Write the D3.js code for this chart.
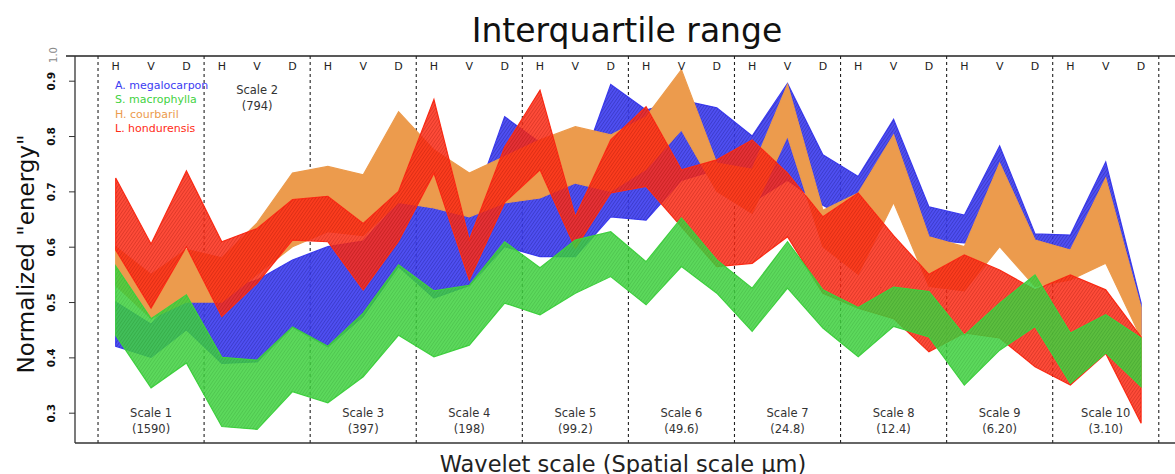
<!DOCTYPE html>
<html>
<head>
<meta charset="utf-8">
<script src="https://cdn.jsdelivr.net/npm/d3@7"></script>
<style>
  body { margin: 0; background: #fff; }
  svg { display: block; font-family: "DejaVu Sans", sans-serif; }
</style>
</head>
<body>
<div id="graph"></div>
<script>
var orient = ["H", "V", "D"]
var scaleNames = ["Scale 1", "Scale 2", "Scale 3", "Scale 4", "Scale 5", "Scale 6", "Scale 7", "Scale 8", "Scale 9", "Scale 10"]
var scaleSizes = ["(1590)", "(794)", "(397)", "(198)", "(99.2)", "(49.6)", "(24.8)", "(12.4)", "(6.20)", "(3.10)"]
var yTicks = [0.3, 0.4, 0.5, 0.6, 0.7, 0.8, 0.9]

// lower / upper quartiles, 30 points (H,V,D for each scale)
var megaLo = [0.42, 0.40, 0.45, 0.389, 0.392, 0.455, 0.419, 0.474, 0.564, 0.507, 0.53, 0.60, 0.582, 0.582, 0.654,
              0.648, 0.72, 0.739, 0.68, 0.72, 0.675, 0.64, 0.685, 0.612, 0.607, 0.612, 0.607, 0.591, 0.582, 0.44]
var megaHi = [0.50, 0.46, 0.525, 0.52, 0.54, 0.576, 0.60, 0.61, 0.68, 0.679, 0.654, 0.835, 0.788, 0.715, 0.893,
              0.847, 0.865, 0.851, 0.80, 0.895, 0.766, 0.727, 0.83, 0.672, 0.657, 0.782, 0.623, 0.621, 0.753, 0.498]
var macroLo = [0.44, 0.345, 0.39, 0.275, 0.27, 0.338, 0.318, 0.365, 0.44, 0.401, 0.422, 0.498, 0.477, 0.516, 0.546,
               0.495, 0.564, 0.516, 0.447, 0.525, 0.453, 0.401, 0.456, 0.437, 0.35, 0.413, 0.456, 0.353, 0.408, 0.347]
var macroHi = [0.565, 0.47, 0.513, 0.40, 0.395, 0.455, 0.42, 0.48, 0.567, 0.52, 0.53, 0.609, 0.562, 0.612, 0.627,
               0.573, 0.652, 0.576, 0.525, 0.609, 0.522, 0.49, 0.527, 0.519, 0.44, 0.498, 0.549, 0.444, 0.477, 0.435]
var courLo = [0.53, 0.47, 0.50, 0.50, 0.55, 0.60, 0.627, 0.62, 0.68, 0.67, 0.654, 0.679, 0.688, 0.715, 0.70,
              0.74, 0.811, 0.70, 0.66, 0.80, 0.60, 0.55, 0.68, 0.528, 0.52, 0.60, 0.528, 0.54, 0.57, 0.435]
var courHi = [0.60, 0.55, 0.595, 0.58, 0.643, 0.733, 0.745, 0.73, 0.844, 0.775, 0.733, 0.763, 0.793, 0.817, 0.802,
              0.835, 0.92, 0.751, 0.74, 0.893, 0.666, 0.697, 0.802, 0.618, 0.60, 0.751, 0.612, 0.594, 0.724, 0.49]
var hondLo = [0.594, 0.489, 0.60, 0.474, 0.534, 0.612, 0.609, 0.522, 0.61, 0.733, 0.54, 0.68, 0.739, 0.597, 0.697,
              0.709, 0.636, 0.564, 0.57, 0.618, 0.516, 0.489, 0.47, 0.41, 0.444, 0.435, 0.383, 0.35, 0.407, 0.281]
var hondHi = [0.724, 0.605, 0.737, 0.609, 0.633, 0.685, 0.691, 0.642, 0.70, 0.866, 0.612, 0.78, 0.883, 0.654, 0.793,
              0.853, 0.739, 0.757, 0.793, 0.733, 0.654, 0.697, 0.62, 0.55, 0.585, 0.558, 0.522, 0.549, 0.522, 0.437]

var speciesNames = ["A. megalocarpon", "S. macrophylla", "H. courbaril", "L. hondurensis"]
var speciesColors = ["#3c3cf2", "#3fd23f", "#ec9b4d", "#ff2c16"]
var speciesAlpha = [0.9, 0.85, 1, 0.85]
var hatchColors = ["#0a0a60", "#137013", null, "#8a0a00"]

var width = 1175, height = 474
var svg = d3.select("#graph").append("svg").attr("width", width).attr("height", height)

var nPts = orient.length * scaleNames.length
var x = d3.scaleLinear().domain([0, nPts - 1]).range([115.7, 1141.1])
var y = d3.scaleLinear().domain([0.3, 0.9]).range([412.7, 80.7])
var plotTop = 56, plotBottom = 443, plotLeft = 75

// hatch patterns like R's density shading, one per colour
var defs = svg.append("defs")
hatchColors.forEach(function(hc, i) {
    if (!hc) return
    defs.append("pattern")
        .attr("id", "hatch" + i)
        .attr("patternUnits", "userSpaceOnUse")
        .attr("width", 2.6).attr("height", 10)
        .attr("patternTransform", "rotate(35)")
      .append("line")
        .attr("x1", 0.5).attr("y1", 0).attr("x2", 0.5).attr("y2", 10)
        .attr("stroke", hc).attr("stroke-opacity", i == 1 ? 0.22 : 0.35).attr("stroke-width", 0.8)
})

var plot = svg.append("g")

// dashed separators between scales
plot.selectAll("line.sep")
    .data(d3.range(scaleNames.length + 1))
    .enter().append("line")
    .attr("class", "sep")
    .attr("x1", function(k) { return x(k * 3 - 0.5) })
    .attr("x2", function(k) { return x(k * 3 - 0.5) })
    .attr("y1", plotTop).attr("y2", plotBottom)
    .attr("stroke", "#222").attr("stroke-width", 1.1)
    .attr("stroke-dasharray", "3,3")

// ribbons: blue, orange, red, green (drawing order as in picture)
var bands = [
    {lo: megaLo, hi: megaHi, c: 0},
    {lo: courLo, hi: courHi, c: 2},
    {lo: hondLo, hi: hondHi, c: 3},
    {lo: macroLo, hi: macroHi, c: 1}
]

var area = d3.area()
    .x(function(d, i) { return x(i) })
    .y0(function(d) { return y(d[0]) })
    .y1(function(d) { return y(d[1]) })

bands.forEach(function(b) {
    var pts = b.lo.map(function(v, i) { return [v, b.hi[i]] })
    plot.append("path")
        .attr("d", area(pts))
        .attr("fill", speciesColors[b.c])
        .attr("fill-opacity", speciesAlpha[b.c])
        .attr("stroke", speciesColors[b.c])
        .attr("stroke-width", 1.2)
    if (hatchColors[b.c]) {
        plot.append("path")
            .attr("d", area(pts))
            .attr("fill", "url(#hatch" + b.c + ")")
    }
})

// H V D labels along the top
plot.selectAll("text.orient")
    .data(d3.range(nPts))
    .enter().append("text")
    .attr("class", "orient")
    .attr("x", function(i) { return x(i) })
    .attr("y", 70)
    .attr("text-anchor", "middle")
    .attr("font-size", 11)
    .attr("fill", "#222")
    .text(function(i) { return orient[i % 3] })

// scale labels
scaleNames.forEach(function(s, k) {
    var cx = x(k * 3 + 1)
    var ty = k == 1 ? 94 : 417
    plot.append("text")
        .attr("x", cx).attr("y", ty)
        .attr("text-anchor", "middle").attr("font-size", 11.5).attr("fill", "#333")
        .text(s)
    plot.append("text")
        .attr("x", cx).attr("y", ty + 15.5)
        .attr("text-anchor", "middle").attr("font-size", 11.5).attr("fill", "#333")
        .text(scaleSizes[k])
})

// legend
plot.selectAll("text.leg")
    .data(speciesNames)
    .enter().append("text")
    .attr("class", "leg")
    .attr("x", 115)
    .attr("y", function(d, i) { return 89 + i * 14.3 })
    .attr("font-size", 11)
    .attr("fill", function(d, i) { return speciesColors[i] })
    .text(function(d) { return d })

// frame
svg.append("line").attr("x1", 66).attr("x2", width).attr("y1", plotTop).attr("y2", plotTop)
    .attr("stroke", "#222").attr("stroke-width", 1.5)
svg.append("line").attr("x1", plotLeft).attr("x2", width).attr("y1", plotBottom).attr("y2", plotBottom)
    .attr("stroke", "#333").attr("stroke-width", 1.3)
svg.append("line").attr("x1", plotLeft).attr("x2", plotLeft).attr("y1", plotTop).attr("y2", plotBottom)
    .attr("stroke", "#333").attr("stroke-width", 1.3)

// y axis
var yAxis = d3.axisLeft(y).tickValues(yTicks).tickSize(6).tickFormat(d3.format(".1f"))
var yg = svg.append("g").attr("transform", "translate(" + plotLeft + ",0)").call(yAxis)
yg.select(".domain").remove()
yg.selectAll(".tick line").attr("stroke", "#333")
yg.selectAll(".tick text")
    .attr("transform", "rotate(-90)")
    .attr("x", 0).attr("dy", 0)
    .attr("y", -20)
    .attr("text-anchor", "middle")
    .attr("font-weight", "bold")
    .attr("font-size", 10.5)
    .attr("font-family", "DejaVu Sans, sans-serif")
    .attr("fill", "#111")
svg.append("text")
    .attr("transform", "translate(57,55) rotate(-90)")
    .attr("text-anchor", "middle")
    .attr("font-size", 10).attr("fill", "#888")
    .text("1.0")

// titles
svg.append("text")
    .attr("x", 627).attr("y", 42)
    .attr("text-anchor", "middle").attr("font-size", 33).attr("fill", "#111")
    .text("Interquartile range")
svg.append("text")
    .attr("x", 623).attr("y", 472)
    .attr("text-anchor", "middle").attr("font-size", 22.5).attr("fill", "#222")
    .text("Wavelet scale (Spatial scale \u00b5m)")
svg.append("text")
    .attr("transform", "translate(34,254) rotate(-90)")
    .attr("text-anchor", "middle").attr("font-size", 23).attr("fill", "#111")
    .text("Normalized \"energy\"")
</script>
</body>
</html>
